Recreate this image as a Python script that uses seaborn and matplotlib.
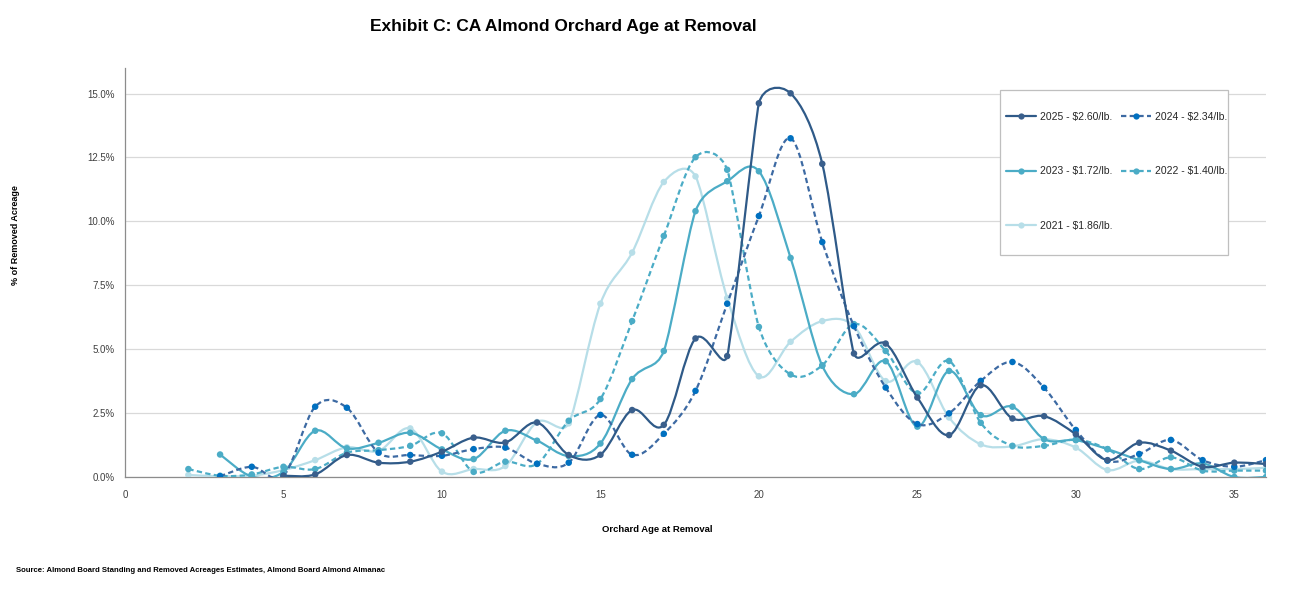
import numpy as np
import pandas as pd
import matplotlib
matplotlib.use("Agg")
import matplotlib.pyplot as plt
import seaborn as sns
from matplotlib.path import Path
from matplotlib.patches import PathPatch, Rectangle
from matplotlib.lines import Line2D
from matplotlib.ticker import MultipleLocator, PercentFormatter

# -----------------------------
# DATA (% of removed acreage by orchard age)
# -----------------------------
labels = ["2025 - $2.60/lb.", "2024 - $2.34/lb.", "2023 - $1.72/lb.",
          "2022 - $1.40/lb.", "2021 - $1.86/lb."]

ages_2025 = list(range(5, 37))
pct_2025 = [0.05, 0.10, 0.86, 0.56, 0.60, 0.99, 1.54, 1.35, 2.13, 0.86, 0.87,
            2.62, 2.04, 5.42, 4.73, 14.62, 15.01, 12.25, 4.83, 5.22, 3.11,
            1.64, 3.59, 2.29, 2.38, 1.67, 0.66, 1.34, 1.03, 0.40, 0.56, 0.51]

ages_2024 = list(range(3, 37))
pct_2024 = [0.03, 0.40, 0.05, 2.75, 2.71, 0.95, 0.86, 0.83, 1.09, 1.15, 0.52,
            0.56, 2.43, 0.87, 1.69, 3.37, 6.78, 10.21, 13.25, 9.19, 5.90,
            3.50, 2.07, 2.49, 3.76, 4.50, 3.49, 1.84, 0.64, 0.90, 1.45, 0.66,
            0.40, 0.66]

ages_2023 = list(range(3, 37))
pct_2023 = [0.88, 0.02, 0.20, 1.81, 1.12, 1.34, 1.73, 1.08, 0.70, 1.81, 1.42,
            0.82, 1.31, 3.83, 4.93, 10.40, 11.57, 11.96, 8.57, 4.35, 3.24,
            4.53, 1.97, 4.15, 2.42, 2.75, 1.48, 1.44, 1.09, 0.66, 0.31, 0.53,
            0.00, 0.00]

ages_2022 = list(range(2, 37))
pct_2022 = [0.31, 0.05, 0.10, 0.40, 0.31, 0.95, 1.05, 1.22, 1.71, 0.20, 0.60,
            0.51, 2.20, 3.05, 6.10, 9.43, 12.51, 12.02, 5.87, 4.01, 4.37,
            5.98, 4.93, 3.27, 4.54, 2.12, 1.22, 1.22, 1.46, 1.09, 0.31, 0.77,
            0.25, 0.25, 0.25]

ages_2021 = list(range(2, 37))
pct_2021 = [0.08, 0.03, 0.05, 0.27, 0.66, 1.16, 1.02, 1.90, 0.21, 0.31, 0.43,
            2.15, 2.10, 6.78, 8.78, 11.54, 11.76, 7.00, 3.94, 5.29, 6.10,
            5.90, 3.75, 4.50, 2.33, 1.28, 1.20, 1.48, 1.15, 0.27, 0.64, 0.31,
            0.31, 0.31, 0.36]

x_ticks = [0, 5, 10, 15, 20, 25, 30, 35]

# -----------------------------
# STYLE
# -----------------------------
line_colors = ["#2F5A88", "#3D6AA3", "#4BACC6", "#4BACC6", "#B7DEE8"]
dot_colors = ["#3A5F8C", "#0070C0", "#4BACC6", "#4BACC6", "#B7DEE8"]
dashed = [False, True, False, True, False]
DASH = (0, (2.4, 1.5))

series = [(ages_2025, pct_2025), (ages_2024, pct_2024), (ages_2023, pct_2023),
          (ages_2022, pct_2022), (ages_2021, pct_2021)]

rows = []
for lab, (a, p) in zip(labels, series):
    for ai, pi in zip(a, p):
        rows.append({"age": ai, "pct": pi, "series": lab})
df = pd.DataFrame(rows)

sns.set_theme(style="white")
plt.rcParams['font.family'] = ['Liberation Sans', 'DejaVu Sans']


def smooth_path(ax, xs, ys):
    """Excel-like smoothed line: cubic Bezier segments, control points
    computed in screen space with the tangent limited by neighbour segments."""
    data = np.column_stack([xs, ys]).astype(float)
    pts = ax.transData.transform(data)
    n = len(pts)
    fwd = np.zeros_like(pts)
    bwd = np.zeros_like(pts)
    for i in range(n):
        p0 = pts[i - 1] if i > 0 else pts[i]
        p2 = pts[i + 1] if i < n - 1 else pts[i]
        p1 = pts[i]
        d02 = np.hypot(*(p2 - p0))
        d01 = np.hypot(*(p1 - p0))
        d12 = np.hypot(*(p2 - p1))
        if d02 == 0:
            f = 0.0
        else:
            f = 1.0 / 6.0
            lims = [d / (2 * d02) for d in (d01, d12) if d > 0]
            if lims:
                f = min([f] + lims)
        fwd[i] = p1 + f * (p2 - p0)
        bwd[i] = p1 - f * (p2 - p0)
    verts = [pts[0]]
    codes = [Path.MOVETO]
    for i in range(n - 1):
        verts += [fwd[i], bwd[i + 1], pts[i + 1]]
        codes += [Path.CURVE4] * 3
    verts = ax.transData.inverted().transform(np.array(verts))
    return Path(verts, codes)


fig = plt.figure(figsize=(12.89, 5.92), dpi=100)
ax = fig.add_axes([125 / 1289, 1 - 477 / 592, (1266 - 125) / 1289, (477 - 68) / 592])
ax.set_xlim(0, 36)
ax.set_ylim(0, 16)

# lines, drawn back to front
for k in reversed(range(len(labels))):
    a, p = series[k]
    patch = PathPatch(smooth_path(ax, a, p), facecolor="none", edgecolor=line_colors[k],
                      lw=1.6, linestyle=DASH if dashed[k] else "-",
                      zorder=2 + (len(labels) - k), capstyle="butt")
    ax.add_patch(patch)

for k in reversed(range(len(labels))):
    sub = df[df["series"] == labels[k]]
    sns.scatterplot(data=sub, x="age", y="pct", color=dot_colors[k], s=22,
                    edgecolor="none", ax=ax, legend=False,
                    zorder=3 + (len(labels) - k))

ax.set_xlim(0, 36)
ax.set_ylim(0, 16)
ax.xaxis.set_major_locator(MultipleLocator(5))
ax.xaxis.set_minor_locator(MultipleLocator(1))
ax.yaxis.set_major_locator(MultipleLocator(2.5))
ax.yaxis.set_minor_locator(MultipleLocator(0.5))
ax.yaxis.set_major_formatter(PercentFormatter(xmax=100, decimals=1))
ax.set_xticks(x_ticks)

ax.grid(axis="y", which="major", color="#D9D9D9", lw=0.9)
ax.set_axisbelow(True)
for s in ["top", "right"]:
    ax.spines[s].set_visible(False)
for s in ["left", "bottom"]:
    ax.spines[s].set_color("#8C8C8C")
    ax.spines[s].set_linewidth(0.9)

ax.tick_params(axis="both", which="both", direction="out", length=3.5,
               width=0.8, color="#8C8C8C", labelsize=7, labelcolor="#404040")
ax.tick_params(axis="x", which="major", pad=6)
ax.tick_params(axis="y", which="major", pad=4)

ax.set_xlabel("")
ax.set_ylabel("")

fig.text(563 / 1289, 1 - 26 / 592, "Exhibit C: CA Almond Orchard Age at Removal",
         ha="center", va="center", fontsize=12.5, fontweight="bold", color="#000000")
fig.text(16 / 1289, 1 - 235 / 592, "% of Removed Acreage", rotation=90,
         ha="center", va="center", fontsize=6.5, fontweight="bold", color="#000000")
fig.text(657 / 1289, 1 - 530 / 592, "Orchard Age at Removal",
         ha="center", va="center", fontsize=6.8, fontweight="bold", color="#000000")
fig.text(16 / 1289, 1 - 571 / 592,
         "Source: Almond Board Standing and Removed Acreages Estimates, Almond Board Almond Almanac",
         ha="left", va="center", fontsize=5.6, fontweight="bold", color="#000000")

# legend frame drawn separately (padding in the original is uneven)
fig.patches.append(Rectangle((1000 / 1289, 1 - 255 / 592), 228 / 1289, 165 / 592,
                             transform=fig.transFigure, facecolor="white",
                             edgecolor="#BFBFBF", lw=0.9, zorder=10))

# legend (column-major fill: 2025, 2023, 2021 | 2024, 2022)
handles = []
for k in range(len(labels)):
    handles.append(Line2D([0], [0], color=line_colors[k], lw=1.6,
                          linestyle=DASH if dashed[k] else "-",
                          marker="o", markersize=4.5, markerfacecolor=dot_colors[k],
                          markeredgecolor="none"))
order = [0, 2, 4, 1, 3]
leg = fig.legend([handles[i] for i in order], [labels[i] for i in order],
                 ncol=2, loc="upper left",
                 bbox_to_anchor=(1006 / 1289, 1 - 112 / 592),
                 fontsize=7.5, frameon=False, borderpad=0,
                 labelspacing=4.25, handlelength=2.9, handletextpad=0.35,
                 columnspacing=0.8, borderaxespad=0)
leg.set_zorder(11)

fig.savefig("out.png", dpi=100, facecolor="white")
